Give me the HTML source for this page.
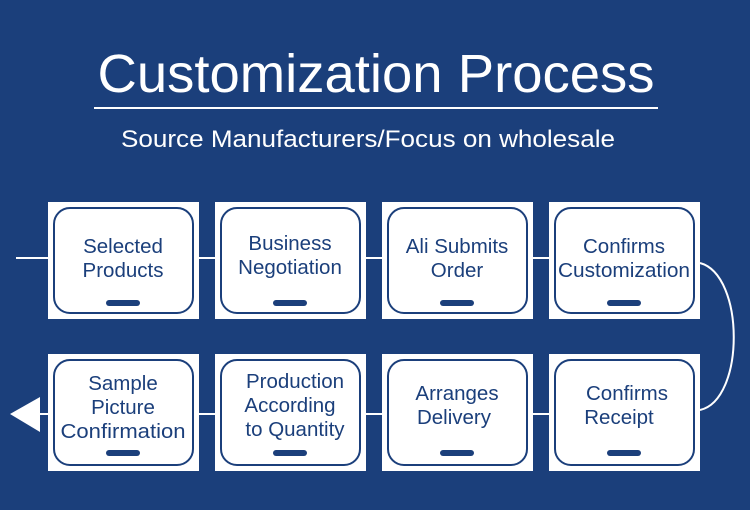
<!DOCTYPE html>
<html><head><style>html,body{margin:0;padding:0;background:#1b3f7b}svg{display:block}</style></head>
<body>
<svg width="750" height="510" viewBox="0 0 750 510" xmlns="http://www.w3.org/2000/svg" font-family="Liberation Sans, DejaVu Sans, sans-serif">
<rect width="750" height="510" fill="#1b3f7b"/>
<text x="376" y="92" fill="#fff" font-size="54" text-anchor="middle" textLength="557" lengthAdjust="spacingAndGlyphs">Customization Process</text>
<rect x="94" y="107" width="564" height="2" fill="#fff"/>
<text x="368" y="147" fill="#fff" font-size="24" text-anchor="middle" textLength="494" lengthAdjust="spacingAndGlyphs">Source Manufacturers/Focus on wholesale</text>
<g stroke="#fff" stroke-width="2" fill="none">
<line x1="16" y1="258" x2="700" y2="258"/>
<line x1="30" y1="414" x2="700" y2="414"/>
<path d="M700 263 C745 275 745 400 700 410"/>
</g>
<polygon points="10,414 40,397 40,432" fill="#fff"/>
<g font-size="20.5" fill="#1b3f7b" text-anchor="middle">
<g transform="translate(48,202)"><rect width="151" height="117" fill="#fff"/><rect x="6" y="6" width="139" height="105" rx="16" fill="#fff" stroke="#1b3f7b" stroke-width="2"/><rect x="58" y="98" width="34" height="6" rx="3"/><text x="75" y="51">Selected</text><text x="75" y="75">Products</text></g>
<g transform="translate(215,202)"><rect width="151" height="117" fill="#fff"/><rect x="6" y="6" width="139" height="105" rx="16" fill="#fff" stroke="#1b3f7b" stroke-width="2"/><rect x="58" y="98" width="34" height="6" rx="3"/><text x="75" y="48">Business</text><text x="75" y="72">Negotiation</text></g>
<g transform="translate(382,202)"><rect width="151" height="117" fill="#fff"/><rect x="6" y="6" width="139" height="105" rx="16" fill="#fff" stroke="#1b3f7b" stroke-width="2"/><rect x="58" y="98" width="34" height="6" rx="3"/><text x="75" y="51">Ali Submits</text><text x="75" y="75">Order</text></g>
<g transform="translate(549,202)"><rect width="151" height="117" fill="#fff"/><rect x="6" y="6" width="139" height="105" rx="16" fill="#fff" stroke="#1b3f7b" stroke-width="2"/><rect x="58" y="98" width="34" height="6" rx="3"/><text x="75" y="51">Confirms</text><text x="75" y="75" textLength="132" lengthAdjust="spacingAndGlyphs">Customization</text></g>
<g transform="translate(48,354)"><rect width="151" height="117" fill="#fff"/><rect x="6" y="6" width="139" height="105" rx="16" fill="#fff" stroke="#1b3f7b" stroke-width="2"/><rect x="58" y="96" width="34" height="6" rx="3"/><text x="75" y="36">Sample</text><text x="75" y="60">Picture</text><text x="75" y="84" textLength="125" lengthAdjust="spacingAndGlyphs">Confirmation</text></g>
<g transform="translate(215,354)"><rect width="151" height="117" fill="#fff"/><rect x="6" y="6" width="139" height="105" rx="16" fill="#fff" stroke="#1b3f7b" stroke-width="2"/><rect x="58" y="96" width="34" height="6" rx="3"/><text x="80" y="34">Production</text><text x="75" y="58">According</text><text x="80" y="82">to Quantity</text></g>
<g transform="translate(382,354)"><rect width="151" height="117" fill="#fff"/><rect x="6" y="6" width="139" height="105" rx="16" fill="#fff" stroke="#1b3f7b" stroke-width="2"/><rect x="58" y="96" width="34" height="6" rx="3"/><text x="75" y="46">Arranges</text><text x="72" y="70">Delivery</text></g>
<g transform="translate(549,354)"><rect width="151" height="117" fill="#fff"/><rect x="6" y="6" width="139" height="105" rx="16" fill="#fff" stroke="#1b3f7b" stroke-width="2"/><rect x="58" y="96" width="34" height="6" rx="3"/><text x="78" y="46">Confirms</text><text x="70" y="70">Receipt</text></g>
</g>
</svg>
</body></html>
